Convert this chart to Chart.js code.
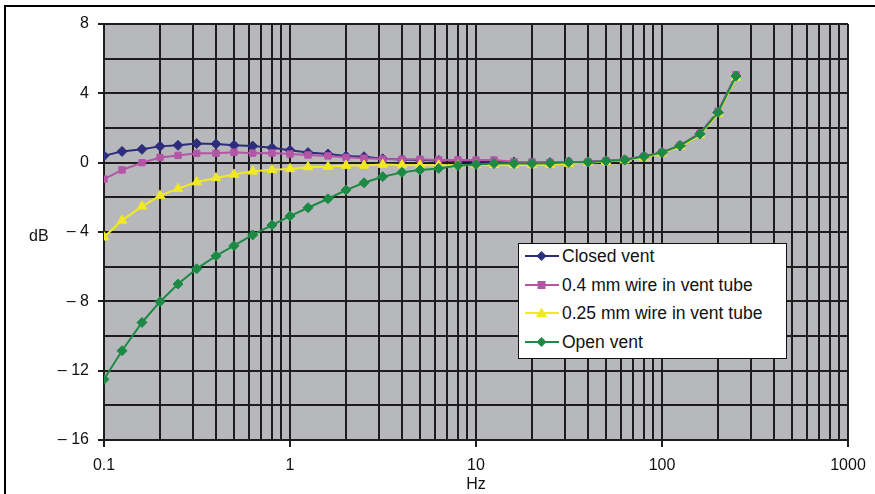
<!DOCTYPE html>
<html>
<head>
<meta charset="utf-8">
<script src="https://cdn.jsdelivr.net/npm/chart.js@4.4.1/dist/chart.umd.min.js"></script>
<style>
  body { margin: 0; background: #fff; }
  #wrap { position: relative; width: 875px; height: 494px; overflow: hidden; font-family: 'Liberation Sans', Arial, Helvetica, sans-serif; }
  #frameTop { position: absolute; left: 4px; top: 5px; width: 871px; height: 2px; background: #000; }
  #frameLeft { position: absolute; left: 4px; top: 5px; width: 2px; height: 489px; background: #000; }
  #dbLabel { position: absolute; left: 29px; top: 226px; font-size: 16px; line-height: 20px; color: #111; }
  #legend { position: absolute; left: 518px; top: 243px; width: 267px; height: 114px; background: #fff; border: 1px solid #111; }
  .item { position: absolute; left: 0; height: 20px; line-height: 20px; font-size: 17.5px; color: #111; white-space: nowrap; }
  .item svg { position: absolute; left: 6px; top: 3px; }
  .item span { position: absolute; left: 43px; top: 0; }
</style>
</head>
<body>
<div id="wrap">
  <canvas id="ventChart" width="875" height="494"></canvas>
  <div id="frameTop"></div>
  <div id="frameLeft"></div>
  <div id="dbLabel">dB</div>
  <div id="legend"></div>
</div>
<script>
// 1/3 octave frequencies (Hz)
const freqs = [0.1, 0.125, 0.16, 0.2, 0.25, 0.315, 0.4, 0.5, 0.63, 0.8,
               1, 1.25, 1.6, 2, 2.5, 3.15, 4, 5, 6.3, 8,
               10, 12.5, 16, 20, 25, 31.5, 40, 50, 63, 80,
               100, 125, 160, 200, 250];

const closedVent = [0.4, 0.65, 0.77, 0.94, 1.0, 1.1, 1.08, 1.0, 0.96, 0.86,
                    0.71, 0.58, 0.5, 0.38, 0.34, 0.22, 0.18, 0.15, 0.12, 0.1,
                    0.08, 0.06, 0.04, 0.02, 0.0, 0.04, 0.05, 0.1, 0.17, 0.35,
                    0.58, 0.98, 1.66, 2.9, 5.0];

const wire04 = [-0.95, -0.42, 0.0, 0.3, 0.42, 0.54, 0.54, 0.6, 0.55, 0.56,
                0.5, 0.44, 0.39, 0.31, 0.26, 0.21, 0.2, 0.19, 0.16, 0.16,
                0.15, 0.15, 0.06, 0.04, 0.02, 0.04, 0.05, 0.12, 0.18, 0.37,
                0.6, 1.0, 1.7, 2.97, 5.08];

const wire025 = [-4.3, -3.33, -2.52, -1.9, -1.5, -1.12, -0.88, -0.68, -0.5, -0.41,
                 -0.36, -0.25, -0.23, -0.17, -0.16, -0.11, -0.14, -0.15, -0.15, -0.15,
                 -0.13, -0.12, -0.13, -0.13, -0.1, -0.05, 0.0, 0.07, 0.14, 0.3,
                 0.54, 0.93, 1.6, 2.83, 4.92];

const openVent = [-12.5, -10.85, -9.22, -8.02, -7.0, -6.12, -5.38, -4.79, -4.17, -3.6,
                  -3.08, -2.6, -2.08, -1.58, -1.16, -0.81, -0.56, -0.42, -0.33, -0.17,
                  -0.1, -0.05, -0.05, -0.05, -0.03, 0.02, 0.03, 0.1, 0.16, 0.35,
                  0.58, 0.98, 1.66, 2.9, 5.0];

const seriesNames = ['Closed vent', '0.4 mm wire in vent tube', '0.25 mm wire in vent tube', 'Open vent'];
const xTickLabels = [0.1, 1, 10, 100, 1000];
const yTickLabels = [8, 4, 0, -4, -8, -12, -16];

const GRID = '#1e1c1d';

function toPoints(values) {
    return freqs.map((f, i) => ({ x: f, y: values[i] }));
}

function makeDataset(label, values, color, style, radius, order) {
    return {
        label: label,
        data: toPoints(values),
        borderColor: color,
        backgroundColor: color,
        borderWidth: 2,
        pointStyle: style,
        pointRadius: radius,
        pointBorderWidth: 1,
        pointBorderColor: color,
        pointBackgroundColor: color,
        tension: 0,
        order: order
    };
}

// markers for the html legend
function legendIcon(ds) {
    const c = ds.borderColor;
    let mark = '';
    if (ds.pointStyle === 'rectRot') {
        mark = `<polygon points="16.5,2 21.5,7 16.5,12 11.5,7" fill="${c}"/>`;
    } else if (ds.pointStyle === 'rect') {
        mark = `<rect x="12.5" y="3" width="8" height="8" fill="${c}"/>`;
    } else {
        mark = `<polygon points="16.5,1.5 22,11 11,11" fill="${c}"/>`;
    }
    return `<svg width="34" height="14"><line x1="0" y1="7" x2="34" y2="7" stroke="${c}" stroke-width="2"/>${mark}</svg>`;
}

const htmlLegend = {
    id: 'htmlLegend',
    afterUpdate(chart) {
        const box = document.getElementById('legend');
        box.innerHTML = '';
        chart.data.datasets.forEach((ds, i) => {
            const row = document.createElement('div');
            row.className = 'item';
            row.style.top = (2 + i * 28.7) + 'px';
            row.innerHTML = legendIcon(ds) + '<span>' + ds.label + '</span>';
            box.appendChild(row);
        });
    }
};

const ctx = document.getElementById('ventChart').getContext('2d');

new Chart(ctx, {
    type: 'line',
    data: {
        datasets: [
            makeDataset(seriesNames[0], closedVent, '#2c2d7d', 'rectRot', 5, 4),
            makeDataset(seriesNames[1], wire04, '#b455a6', 'rect', 4.5, 3),
            makeDataset(seriesNames[2], wire025, '#f1ea20', 'triangle', 5.5, 2),
            makeDataset(seriesNames[3], openVent, '#1c8a45', 'rectRot', 5, 1)
        ]
    },
    options: {
        responsive: false,
        animation: false,
        layout: { padding: { left: 0, right: 27, top: 24, bottom: 0 } },
        plugins: {
            legend: { display: false },
            tooltip: { enabled: false }
        },
        scales: {
            x: {
                type: 'logarithmic',
                min: 0.1,
                max: 1000,
                afterBuildTicks(scale) {
                    const ticks = [];
                    for (let d = 0; d < xTickLabels.length - 1; d++) {
                        for (let m = 1; m <= 9; m++) {
                            ticks.push({ value: +(xTickLabels[d] * m).toPrecision(6) });
                        }
                    }
                    ticks.push({ value: 1000 });
                    scale.ticks = ticks;
                },
                afterFit(scale) { scale.height = 54; },
                grid: {
                    color: GRID,
                    lineWidth: 2,
                    tickLength: 7,
                    tickColor: (c) => xTickLabels.includes(c.tick && c.tick.value) ? GRID : 'rgba(0,0,0,0)'
                },
                border: { display: true, color: GRID, width: 2 },
                ticks: {
                    autoSkip: false,
                    maxRotation: 0,
                    padding: 9,
                    color: '#111',
                    font: { family: "'Liberation Sans', Arial, sans-serif", size: 16 },
                    callback: (v) => xTickLabels.includes(v) ? String(v) : ''
                },
                title: {
                    display: true,
                    text: 'Hz',
                    color: '#111',
                    padding: { top: 0, bottom: 0 },
                    font: { family: "'Liberation Sans', Arial, sans-serif", size: 16 }
                }
            },
            y: {
                min: -16,
                max: 8,
                afterFit(scale) { scale.width = 104; },
                grid: {
                    color: GRID,
                    lineWidth: 2,
                    tickLength: 6,
                    tickColor: (c) => yTickLabels.includes(c.tick && c.tick.value) ? GRID : 'rgba(0,0,0,0)'
                },
                border: { display: true, color: GRID, width: 2 },
                ticks: {
                    stepSize: 2,
                    padding: 9,
                    color: '#111',
                    font: { family: "'Liberation Sans', Arial, sans-serif", size: 16 },
                    callback: (v) => {
                        if (!yTickLabels.includes(v)) return '';
                        return v < 0 ? '\u2013 ' + (-v) : String(v);
                    }
                }
            }
        }
    },
    plugins: [htmlLegend, {
        id: 'plotBackground',
        beforeDraw(chart) {
            const a = chart.chartArea;
            const c = chart.ctx;
            c.save();
            c.fillStyle = '#b7b8bb';
            c.fillRect(a.left, a.top, a.right - a.left, a.bottom - a.top);
            c.restore();
        }
    }]
});
</script>
</body>
</html>
